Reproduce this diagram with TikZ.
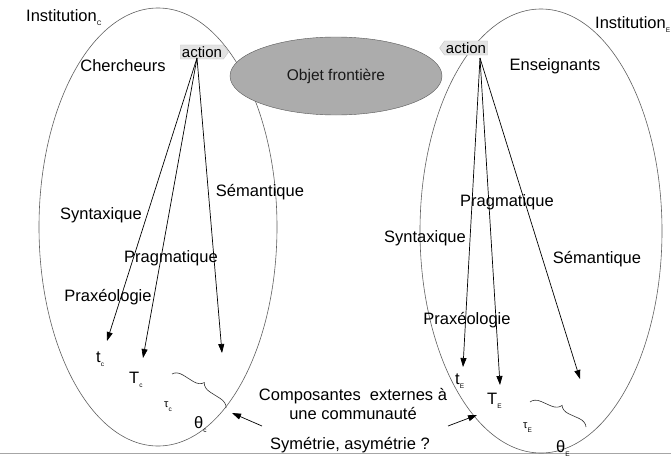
\documentclass[tikz,border=0pt]{standalone}
\usepackage{fontspec}
\setmainfont{Liberation Sans}
\usetikzlibrary{arrows.meta,shapes.symbols,shapes.geometric,decorations.pathreplacing}
\newcommand\sbs[1]{\raisebox{-4pt}{\fontsize{6.5}{7}\selectfont #1}}
\begin{document}
\begin{tikzpicture}[x=1pt,y=-1pt,
  lbl/.style={font=\fontsize{16.5}{18}\selectfont, inner sep=0pt},
  sym/.style={font=\fontsize{16.5}{18}\selectfont, inner sep=0pt, anchor=base west},
  smallsym/.style={font=\fontsize{11}{13}\selectfont, inner sep=0pt, anchor=base west},
  inst/.style={draw=gray!75!black, line width=0.6pt},
  arr/.style={line width=0.7pt, -{Triangle[length=9pt,width=6pt]}},
  actbox/.style={signal, fill=gray!22, draw=gray!45, inner sep=1.5pt,
    font=\fontsize{15}{17}\selectfont, signal pointer angle=110},
  bracestyle/.style={draw=black!80, line width=0.6pt, decorate,
    decoration={brace, amplitude=10pt}}
]
\useasboundingbox (0,0) rectangle (671,463);
\fill[white] (0,0) rectangle (671,463);

% bottom rule
\draw[gray!70, line width=1.3pt] (0,453.5) -- (671,453.5);

% institutions
\draw[inst] (158,227) ellipse [x radius=119, y radius=219];
\draw[inst] (541,231) ellipse [x radius=121, y radius=222];

% boundary object
\node[ellipse, fill=gray!65, draw=gray!70!black, line width=0.4pt,
  minimum width=212pt, minimum height=78pt, inner sep=0pt,
  font=\fontsize{15.5}{17}\selectfont\color{black!90}] (obj) at (336,76) {Objet frontière};

% action tags
\node[actbox, signal to=east] (actL) at (202,52) {action};
\node[actbox, signal to=west] (actR) at (466,48) {action};

% labels
\node[lbl, anchor=base west] (instC) at (26,21) {Institution\sbs{C}};
\node[lbl, anchor=base west] (instE) at (595,28) {Institution\sbs{E}};
\node[lbl] (cher) at (123,66) {Chercheurs};
\node[lbl] (ens) at (555,66) {Enseignants};

\node[lbl] (synL) at (101,215) {Syntaxique};
\node[lbl] (praL) at (171,258) {Pragmatique};
\node[lbl] (semL) at (260,192) {Sémantique};
\node[lbl] (pxL) at (108,297) {Praxéologie};

\node[lbl] (praR) at (507,202) {Pragmatique};
\node[lbl] (synR) at (425,238) {Syntaxique};
\node[lbl] (semR) at (597,259) {Sémantique};
\node[lbl] (pxR) at (467,320) {Praxéologie};

% components left
\node[sym] (tC) at (96,362) {t\sbs{c}};
\node[sym] (TC) at (129,383) {T\sbs{c}};
\node[smallsym] (tauC) at (164,407) {τ\sbs{c}};
\node[sym] (thC) at (194,428) {θ\sbs{c}};
% components right
\node[sym] (tE) at (455,384) {t\sbs{E}};
\node[sym] (TE) at (487,404) {T\sbs{E}};
\node[smallsym] (tauE) at (523,428) {τ\sbs{E}};
\node[sym] (thE) at (556,452) {θ\sbs{E}};

% braces
\draw[bracestyle] (172,374) -- (226,408);
\draw[bracestyle] (530,402) -- (586,427);

% arrows from action (left)
\coordinate (oL) at (197,58);
\coordinate (eL1) at (107,341);
\coordinate (eL2) at (143,358);
\coordinate (eL3) at (222,353);
\draw[arr] (oL) -- (eL1);
\draw[arr] (oL) -- (eL2);
\draw[arr] (oL) -- (eL3);

% arrows from action (right)
\coordinate (oR) at (480,58);
\coordinate (eR1) at (463,367);
\coordinate (eR2) at (500,385);
\coordinate (eR3) at (580,379);
\draw[arr] (oR) -- (eR1);
\draw[arr] (oR) -- (eR2);
\draw[arr] (oR) -- (eR3);

% external components
\node[lbl, align=center] (ext) at (353,404) {Composantes\ \ externes à\\[1pt]une communauté};
\coordinate (xL) at (262,426);
\coordinate (hL) at (232,413);
\coordinate (xR) at (448,426);
\coordinate (hR) at (477,415);
\draw[arr] (xL) -- (hL);
\draw[arr] (xR) -- (hR);

\node[lbl] (sym) at (350,445) {Symétrie, asymétrie ?};
\end{tikzpicture}
\end{document}
